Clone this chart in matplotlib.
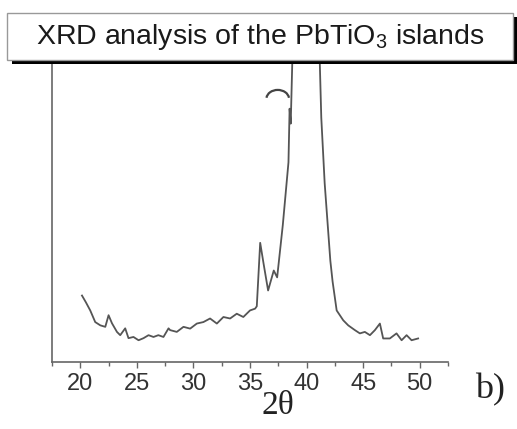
import matplotlib.pyplot as plt
from matplotlib.patches import Rectangle, Arc

# XRD scan (intensity in arbitrary units, main peak clipped)
two_theta = [20.15, 20.5, 20.88, 21.32, 21.77, 22.21, 22.5, 22.8, 23.24, 23.53,
             23.97, 24.26, 24.7, 25.15, 25.59, 26.03, 26.47, 26.9, 27.35, 27.8,
             27.94, 28.53, 29.12, 29.71, 30.3, 30.88, 31.47, 32.07, 32.65, 33.24,
             33.83, 34.41, 35.0, 35.45, 35.6, 35.9, 36.2, 36.6, 37.1, 37.4,
             37.9, 38.4, 38.5, 38.6, 38.8, 39.0, 40.0, 41.0, 41.1, 41.3,
             41.6, 42.1, 42.3, 42.66, 43.24, 43.68, 44.27, 44.71, 45.15, 45.6,
             46.04, 46.48, 46.77, 47.36, 47.95, 48.4, 48.84, 49.28, 49.86]
intensity = [22.3, 20, 17.3, 13.4, 12.3, 11.8, 15.7, 13, 10.1, 9,
             11.3, 8, 8.4, 7.3, 8, 9, 8.4, 9, 8.4, 11.3,
             10.7, 10.1, 11.8, 11.2, 12.9, 13.4, 14.6, 12.9, 15.1, 14.6,
             16.2, 15.1, 17.3, 17.9, 18.7, 40, 33, 24, 30.7, 28.4,
             46, 67, 85, 80, 110, 160, 400, 160, 110, 82,
             60, 34, 27, 17.3, 14, 12.3, 10.7, 9.6, 10.1, 9,
             10.7, 12.9, 7.9, 7.9, 9.6, 7.3, 9, 7.3, 7.9]

major_ticks = [20, 25, 30, 35, 40, 45, 50]
minor_ticks = [17.5, 22.5, 27.5, 32.5, 37.5, 42.5, 47.5, 52.5]

W, H = 517, 429
fig = plt.figure(figsize=(W / 100, H / 100), dpi=100)

def fx(px):
    return px / W

def fy(py):
    return 1 - py / H

# title box with drop shadow
fig.patches.append(Rectangle((fx(12), fy(64)), fx(517) - fx(12), fy(17) - fy(64),
                             transform=fig.transFigure, facecolor='black',
                             edgecolor='none', zorder=1))
fig.patches.append(Rectangle((fx(7), fy(60)), fx(513) - fx(7), fy(13) - fy(60),
                             transform=fig.transFigure, facecolor='white',
                             edgecolor='#999999', lw=1, zorder=2))
fig.text(fx(260), fy(37), r'XRD analysis of the PbTiO$_\mathregular{3}$ islands',
         ha='center', va='center', fontsize=20.5, family='Liberation Sans',
         color='#1a1a1a', zorder=3)

ax = fig.add_axes([fx(52), fy(362), fx(448) - fx(52), fy(64) - fy(362)])
ax.plot(two_theta, intensity, color='#555555', lw=1.3)
# small arc mark above the shoulder peak
ax.add_patch(Arc((37.45, 88.3), 2.0, 6, theta1=20, theta2=160,
                 color='#444444', lw=1.6))

ax.set_xlim(17.5, 52.5)
ax.set_ylim(0, 100)
ax.set_yticks([])
ax.set_xticks(major_ticks)
ax.set_xticks(minor_ticks, minor=True)
ax.tick_params(axis='x', which='major', length=4, width=1, color='#666666',
               labelsize=17, pad=4, labelcolor='#333333')
ax.tick_params(axis='x', which='minor', length=3, width=1, color='#666666')
for lab in ax.get_xticklabels():
    lab.set_family('Liberation Sans')
for side in ['top', 'right']:
    ax.spines[side].set_visible(False)
for side in ['left', 'bottom']:
    ax.spines[side].set_color('#666666')
    ax.spines[side].set_linewidth(1.2)

fig.text(fx(278), fy(406), '2θ', ha='center', va='center', fontsize=24,
         family='Liberation Serif', color='#222222')
fig.text(fx(490), fy(390), 'b)', ha='center', va='center', fontsize=26,
         family='Liberation Serif', color='#222222')

fig.savefig('out.png', dpi=100)
